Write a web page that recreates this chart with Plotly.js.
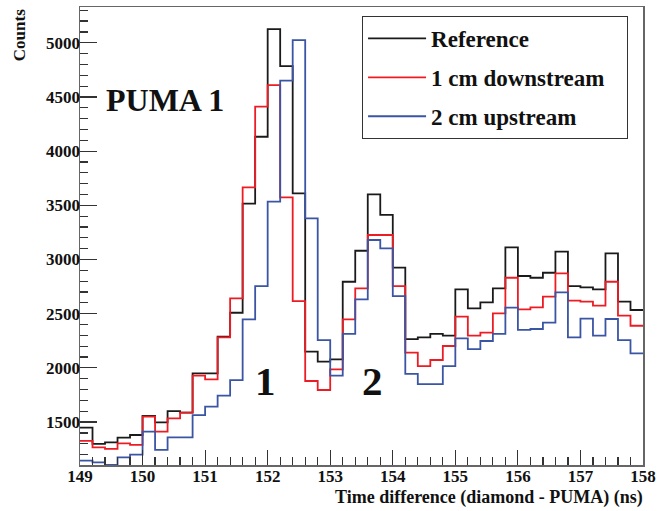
<!DOCTYPE html>
<html><head><meta charset="utf-8">
<script src="https://cdn.plot.ly/plotly-3.0.1.min.js"></script>
<style>html,body{margin:0;padding:0;background:#fff}#plot{width:659px;height:511px}</style>
</head><body><div id="plot"></div>
<script>
const binStart = 149.0;
const binWidth = 0.2;
const seriesNames = ["Reference", "1 cm downstream\u00a0\u00a0\u00a0", "2 cm upstream"];
const reference = [1449,1298,1313,1356,1381,1556,1498,1602,1587,1950,1950,2288,2509,3515,4133,5126,4785,3611,2150,2057,2079,2795,3081,3601,3411,2925,2266,2282,2313,2297,2725,2549,2605,2734,3112,2848,2832,2878,3072,2755,2743,2725,3057,2611,2534];
const downstream1cm = [1326,1267,1252,1304,1289,1550,1412,1535,1587,1928,1894,2282,2642,3666,4410,4610,3574,2617,1879,1796,1987,2448,2734,3226,3226,2755,2140,2017,2073,2202,2473,2297,2325,2503,2832,2540,2559,2657,2872,2620,2611,2574,2795,2482,2389];
const upstream2cm = [1144,1129,1104,1175,1200,1412,1243,1359,1359,1565,1642,1744,1888,2448,2755,3534,4650,5025,3380,2257,1928,2313,2632,3180,3103,2663,1944,1851,1851,2017,2273,2174,2248,2313,2556,2350,2359,2417,2697,2282,2454,2297,2451,2257,2134];
const xTicks = [149,150,151,152,153,154,155,156,157,158];
const yTicks = [1500,2000,2500,3000,3500,4000,4500,5000];

const colors = ["#1a1a1a", "#ec1c24", "#3a55a4"];
const serif = "Liberation Serif, Times New Roman, serif";

function stepTrace(vals, i) {
  const x = [], y = [];
  for (let k = 0; k < vals.length; k++) { x.push(binStart + k * binWidth); y.push(vals[k]); }
  x.push(binStart + vals.length * binWidth); y.push(vals[vals.length - 1]);
  return {x: x, y: y, type: "scatter", mode: "lines", name: seriesNames[i],
    legendgroup: "g" + i, line: {shape: "hv", color: colors[i], width: 1.8}};
}
const data = [stepTrace(reference, 0), stepTrace(downstream1cm, 1), stepTrace(upstream2cm, 2)];

const layout = {
  width: 659, height: 511,
  margin: {l: 80, r: 16, t: 7, b: 46},
  paper_bgcolor: "#fff", plot_bgcolor: "#fff",
  font: {family: serif, color: "#111", weight: "bold"},
  showlegend: true,
  legend: {x: 0.501, y: 0.9803, xanchor: "left", yanchor: "top",
    bordercolor: "#333", borderwidth: 1, bgcolor: "#fff",
    font: {family: serif, size: 23, color: "#111", weight: "bold"},
    tracegroupgap: 6, itemwidth: 58},
  xaxis: {range: [149, 158], tickvals: xTicks, ticks: "inside", ticklen: 15, tickwidth: 1.2,
    tickcolor: "#333", showgrid: false, zeroline: false, showline: true, linecolor: "#666",
    linewidth: 1.5, mirror: true, ticklabelstandoff: -5,
    minor: {dtick: 0.2, ticks: "inside", ticklen: 8, tickcolor: "#333", showgrid: false},
    tickfont: {family: serif, size: 17, color: "#111", weight: "bold"}},
  yaxis: {range: [1104, 5330], tickvals: yTicks, ticks: "inside", ticklen: 17, tickwidth: 1.2,
    tickcolor: "#333", showgrid: false, zeroline: false, showline: true, linecolor: "#666",
    linewidth: 1.5, mirror: true, ticklabelstandoff: -5,
    minor: {dtick: 100, ticks: "inside", ticklen: 8, tickcolor: "#333", showgrid: false},
    tickfont: {family: serif, size: 17, color: "#111", weight: "bold"}},
  annotations: [
    {text: "Time difference (diamond - PUMA) (ns)", xref: "paper", yref: "paper", x: 1.004, y: -0.044,
      xanchor: "right", yanchor: "top", showarrow: false,
      font: {family: serif, size: 18, color: "#111", weight: "bold"}},
    {text: "Counts", xref: "paper", yref: "paper", x: -0.108, y: 1.0, textangle: -90,
      xanchor: "center", yanchor: "top", showarrow: false,
      font: {family: serif, size: 17, color: "#111", weight: "bold"}},
    {text: "PUMA 1", xref: "x", yref: "y", x: 150.36, y: 4471, showarrow: false,
      font: {family: serif, size: 32, color: "#111", weight: "bold"}},
    {text: "1", xref: "x", yref: "y", x: 151.96, y: 1879, showarrow: false,
      font: {family: serif, size: 41, color: "#111", weight: "bold"}},
    {text: "2", xref: "x", yref: "y", x: 153.68, y: 1879, showarrow: false,
      font: {family: serif, size: 41, color: "#111", weight: "bold"}}
  ]
};
Plotly.newPlot("plot", data, layout, {displayModeBar: false, staticPlot: true});
</script></body></html>
